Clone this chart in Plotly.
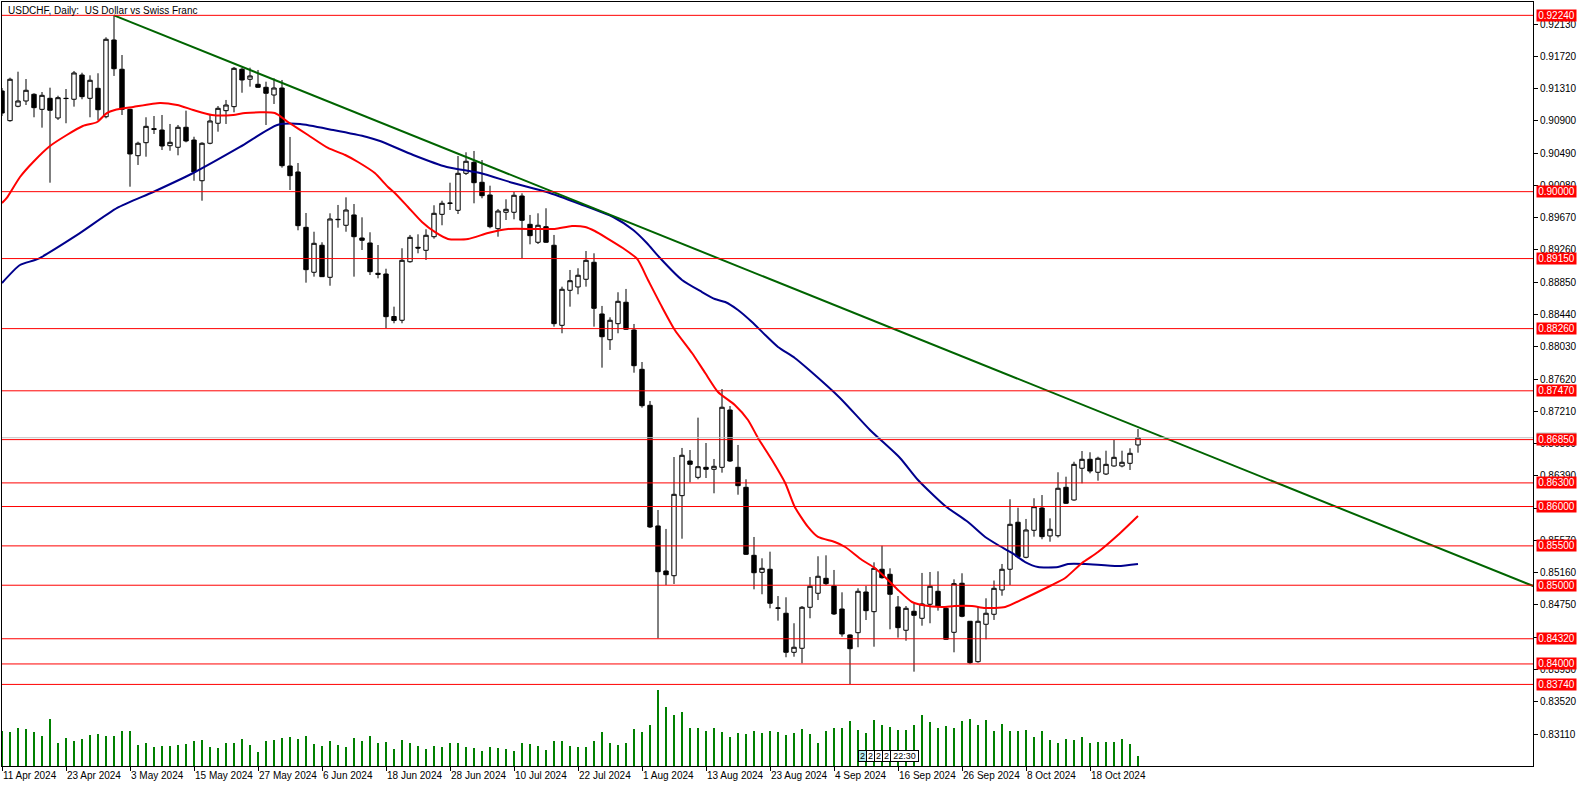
import plotly.graph_objects as go

# ---------------- data ----------------
date_labels = ["11 Apr 2024", "23 Apr 2024", "3 May 2024", "15 May 2024", "27 May 2024",
               "6 Jun 2024", "18 Jun 2024", "28 Jun 2024", "10 Jul 2024", "22 Jul 2024",
               "1 Aug 2024", "13 Aug 2024", "23 Aug 2024", "4 Sep 2024", "16 Sep 2024",
               "26 Sep 2024", "8 Oct 2024", "18 Oct 2024"]

opens = [0.91279, 0.90902, 0.91085, 0.91152, 0.91237, 0.91046, 0.91186, 0.90936, 0.91186, 0.91174,
         0.91482, 0.91186, 0.91313, 0.90952, 0.91927, 0.91555, 0.91046, 0.90457, 0.90622, 0.90800,
         0.90783, 0.90584, 0.90564, 0.90818, 0.90656, 0.90139, 0.90615, 0.90869, 0.91029, 0.91080,
         0.91555, 0.91428, 0.91364, 0.91326, 0.91228, 0.91317, 0.90326, 0.90250, 0.89547, 0.88976,
         0.89319, 0.88912, 0.89649, 0.89573, 0.89704, 0.89411, 0.89348, 0.88963, 0.88954, 0.88414,
         0.88366, 0.89110, 0.89293, 0.89255, 0.89428, 0.89712, 0.89856, 0.89763, 0.90233, 0.90373,
         0.90119, 0.89958, 0.89530, 0.89738, 0.89738, 0.89945, 0.89585, 0.89357, 0.89555, 0.89319,
         0.88302, 0.88747, 0.88789, 0.88887, 0.89103, 0.88446, 0.88119, 0.88323, 0.88595, 0.88243,
         0.87743, 0.87286, 0.85753, 0.85181, 0.85121, 0.86138, 0.86578, 0.86371, 0.86498, 0.86473,
         0.86498, 0.87226, 0.86498, 0.86244, 0.85380, 0.85164, 0.85203, 0.84707, 0.84644, 0.84148,
         0.84199, 0.84720, 0.84898, 0.85088, 0.84990, 0.84698, 0.84368, 0.84397, 0.84914, 0.84664,
         0.85203, 0.85139, 0.84724, 0.84428, 0.84669, 0.84580, 0.84758, 0.84923, 0.84707, 0.84402,
         0.85025, 0.84542, 0.84029, 0.84504, 0.84631, 0.84940, 0.85203, 0.85800, 0.85355, 0.85698,
         0.85981, 0.85626, 0.85629, 0.86244, 0.86083, 0.86486, 0.86600, 0.86435, 0.86413, 0.86515,
         0.86515, 0.86549, 0.86782]

highs = [0.91317, 0.91448, 0.91524, 0.91431, 0.91250, 0.91266, 0.91321, 0.91219, 0.91304, 0.91533,
         0.91511, 0.91478, 0.91504, 0.91961, 0.92240, 0.91736, 0.91054, 0.90635, 0.90945, 0.90961,
         0.90974, 0.90860, 0.90847, 0.91029, 0.90698, 0.90627, 0.90974, 0.91088, 0.91165, 0.91584,
         0.91575, 0.91575, 0.91546, 0.91397, 0.91440, 0.91419, 0.90695, 0.90364, 0.89729, 0.89491,
         0.89357, 0.89725, 0.89831, 0.89928, 0.89843, 0.89674, 0.89484, 0.89322, 0.89021, 0.88539,
         0.89281, 0.89450, 0.89458, 0.89522, 0.89827, 0.89885, 0.90114, 0.90453, 0.90500, 0.90517,
         0.90402, 0.90076, 0.89780, 0.89903, 0.89996, 0.89979, 0.89704, 0.89725, 0.89789, 0.89450,
         0.88793, 0.89005, 0.89027, 0.89246, 0.89217, 0.88548, 0.88404, 0.88722, 0.88764, 0.88319,
         0.87836, 0.87341, 0.85956, 0.85715, 0.86629, 0.86744, 0.86718, 0.87129, 0.86807, 0.86604,
         0.87493, 0.87277, 0.86782, 0.86346, 0.85613, 0.85342, 0.85426, 0.84863, 0.84847, 0.84517,
         0.84736, 0.85105, 0.85368, 0.85380, 0.85194, 0.84910, 0.84376, 0.84961, 0.84990, 0.85291,
         0.85502, 0.85215, 0.84863, 0.84736, 0.84771, 0.85156, 0.85168, 0.85177, 0.84727, 0.85075,
         0.85152, 0.84546, 0.84727, 0.84834, 0.85060, 0.85270, 0.86092, 0.85985, 0.85842, 0.86105,
         0.86146, 0.85850, 0.86435, 0.86379, 0.86569, 0.86705, 0.86689, 0.86633, 0.86709, 0.86845,
         0.86709, 0.86740, 0.86985]

lows = [0.90961, 0.90889, 0.91072, 0.91101, 0.90945, 0.90813, 0.90114, 0.90911, 0.90869, 0.91080,
        0.91174, 0.90945, 0.90911, 0.90932, 0.91470, 0.90974, 0.90063, 0.90339, 0.90444, 0.90733,
        0.90529, 0.90520, 0.90462, 0.90627, 0.90139, 0.89885, 0.90602, 0.90762, 0.90860, 0.91008,
        0.91257, 0.91334, 0.91320, 0.90847, 0.91114, 0.90305, 0.90021, 0.89509, 0.88844, 0.88920,
        0.88916, 0.88805, 0.89542, 0.89491, 0.88920, 0.89259, 0.88941, 0.88899, 0.88264, 0.88328,
        0.88328, 0.89098, 0.89217, 0.89132, 0.89403, 0.89573, 0.89767, 0.89716, 0.90212, 0.89852,
        0.89916, 0.89535, 0.89428, 0.89640, 0.89649, 0.89154, 0.89331, 0.89335, 0.89350, 0.88285,
        0.88201, 0.88539, 0.88696, 0.88793, 0.88285, 0.87764, 0.87989, 0.88201, 0.88243, 0.87700,
        0.87256, 0.85727, 0.84326, 0.85003, 0.85016, 0.85591, 0.86308, 0.86346, 0.86362, 0.86168,
        0.86430, 0.86566, 0.86150, 0.85384, 0.84948, 0.84885, 0.84707, 0.84550, 0.84085, 0.84092,
        0.84008, 0.84580, 0.84812, 0.85003, 0.84622, 0.84346, 0.83745, 0.84212, 0.84558, 0.84219,
        0.85083, 0.84440, 0.84334, 0.84295, 0.83902, 0.84486, 0.84517, 0.84677, 0.84304, 0.84148,
        0.84593, 0.83999, 0.84016, 0.84313, 0.84559, 0.84867, 0.85003, 0.85342, 0.85342, 0.85617,
        0.85584, 0.85553, 0.85607, 0.86032, 0.86074, 0.86295, 0.86422, 0.86328, 0.86400, 0.86506,
        0.86498, 0.86464, 0.86684]

closes = [0.90999, 0.91428, 0.91152, 0.91288, 0.91067, 0.91224, 0.91034, 0.91194, 0.91183, 0.91508,
          0.91207, 0.91415, 0.91041, 0.91936, 0.91562, 0.91046, 0.90479, 0.90615, 0.90830, 0.90792,
          0.90580, 0.90627, 0.90818, 0.90644, 0.90250, 0.90615, 0.90898, 0.91059, 0.91101, 0.91567,
          0.91419, 0.91470, 0.91326, 0.91250, 0.91317, 0.90330, 0.90203, 0.89568, 0.89009, 0.89344,
          0.88920, 0.89653, 0.89645, 0.89767, 0.89428, 0.89382, 0.88983, 0.88950, 0.88412, 0.88363,
          0.89128, 0.89420, 0.89284, 0.89446, 0.89725, 0.89852, 0.89852, 0.90233, 0.90386, 0.90114,
          0.89949, 0.89555, 0.89754, 0.89776, 0.89954, 0.89636, 0.89441, 0.89573, 0.89357, 0.88323,
          0.88760, 0.88869, 0.88938, 0.89128, 0.88518, 0.88157, 0.88366, 0.88607, 0.88252, 0.87789,
          0.87281, 0.85740, 0.85172, 0.85134, 0.86155, 0.86651, 0.86536, 0.86506, 0.86473, 0.86511,
          0.87261, 0.86578, 0.86265, 0.85393, 0.85159, 0.85215, 0.84771, 0.84711, 0.84148, 0.84212,
          0.84720, 0.84987, 0.85114, 0.85020, 0.84635, 0.84381, 0.84194, 0.84923, 0.84677, 0.85215,
          0.85096, 0.84885, 0.84461, 0.84707, 0.84618, 0.84762, 0.84987, 0.84736, 0.84313, 0.85020,
          0.84605, 0.84016, 0.84542, 0.84644, 0.84961, 0.85203, 0.85774, 0.85363, 0.85702, 0.85998,
          0.85617, 0.85711, 0.86232, 0.86041, 0.86536, 0.86600, 0.86451, 0.86613, 0.86536, 0.86625,
          0.86562, 0.86676, 0.86874]

tick_volumes = [52500, 51500, 57000, 55500, 51500, 45000, 70500, 34500, 42000, 38000,
                40500, 46500, 48000, 45000, 45000, 52500, 52500, 31500, 34500, 28500,
                30000, 30000, 31500, 33000, 37500, 39000, 28500, 27000, 34500, 34500,
                40500, 31500, 21000, 37500, 39000, 42000, 43500, 40500, 45000, 33000,
                30000, 37500, 31500, 28500, 42000, 37500, 45000, 34500, 36000, 25500,
                39000, 34500, 30000, 25500, 30000, 28500, 34500, 34500, 28500, 27000,
                22500, 28500, 27000, 25500, 22500, 34500, 33000, 30000, 24000, 37500,
                37500, 30000, 28500, 28500, 37500, 51000, 34500, 31500, 34500, 55500,
                51000, 61500, 114000, 88500, 76500, 81000, 57000, 57000, 52500, 57000,
                51000, 43500, 49500, 48000, 52500, 49500, 52500, 51000, 46500, 49500,
                55500, 48000, 34500, 52500, 57000, 57000, 67500, 54000, 49500, 69000,
                61500, 58500, 54000, 54000, 61500, 76500, 66000, 57000, 60000, 57000,
                67500, 70500, 61500, 69000, 52500, 63000, 52500, 52500, 54000, 43500,
                52500, 39000, 34500, 40500, 39000, 43500, 34500, 36000, 36000, 36000,
                40500, 33000, 15000]

# fast moving average (red), read at bar positions
ma_fast_x = [0, 0.6, 2.25, 3.9, 6, 8.1, 10.1, 11.9, 13.1, 14.1, 16.4, 19.75, 21.9, 23.9, 26.25,
             28.9, 30.4, 34.1, 35.75, 38.25, 40.75, 42.9, 44.5, 46.6, 48.25, 49.1, 50.75, 52.5,
             54.1, 55.75, 58.25, 60.75, 63.25, 66.6, 69.1, 71.25, 72.9, 74.1, 75.6, 77.6, 79.4,
             80.75, 82.5, 84.1, 86.25, 87.9, 89.5, 91.6, 93.25, 94.5, 96.25, 97.9, 99.1, 100.75,
             102, 104.1, 105.4, 107.5, 109.1, 110.75, 112, 113.75, 115, 117.5, 119.1, 121.25,
             122.9, 125.4, 127.9, 131.25, 132.9, 135, 137, 139.5, 142]
ma_fast_y = [0.89856, 0.89920, 0.90186, 0.90377, 0.90580, 0.90720, 0.90834, 0.90885, 0.90999, 0.91038,
             0.91076, 0.91127, 0.91101, 0.91038, 0.90974, 0.90974, 0.90999, 0.90999, 0.90885, 0.90720,
             0.90555, 0.90466, 0.90377, 0.90237, 0.90059, 0.89983, 0.89805, 0.89615, 0.89488, 0.89399,
             0.89399, 0.89475, 0.89526, 0.89526, 0.89526, 0.89564, 0.89551, 0.89500, 0.89411, 0.89284,
             0.89145, 0.88878, 0.88535, 0.88243, 0.87950, 0.87696, 0.87455, 0.87290, 0.87099, 0.86871,
             0.86591, 0.86299, 0.85994, 0.85740, 0.85613, 0.85549, 0.85486, 0.85321, 0.85219, 0.85067,
             0.84940, 0.84787, 0.84749, 0.84724, 0.84736, 0.84736, 0.84711, 0.84724, 0.84838, 0.85003,
             0.85092, 0.85283, 0.85422, 0.85638, 0.85880]

# slow moving average (blue)
ma_slow_x = [0, 2.25, 4.5, 9.4, 14.4, 18.9, 23.9, 29.75, 34.4, 37.25, 41.4, 45.6, 47.25, 51.4,
             55.6, 59.75, 63.9, 68.1, 72.25, 76.4, 78.9, 80.6, 82.25, 85, 87.5, 89.1, 90.4, 92,
             93.75, 95.4, 97, 99.1, 100.9, 104.75, 108.5, 112.25, 114.5, 117.9, 120.75, 122.9,
             124.5, 126.25, 127.9, 129.5, 132, 133.25, 135.4, 139.5, 142]
ma_slow_y = [0.88840, 0.89068, 0.89145, 0.89450, 0.89793, 0.89996, 0.90237, 0.90568, 0.90847, 0.90860,
             0.90783, 0.90695, 0.90644, 0.90466, 0.90313, 0.90237, 0.90110, 0.89996, 0.89843, 0.89678,
             0.89513, 0.89348, 0.89157, 0.88878, 0.88725, 0.88636, 0.88598, 0.88497, 0.88344, 0.88179,
             0.88027, 0.87887, 0.87734, 0.87379, 0.86972, 0.86617, 0.86337, 0.86007, 0.85803, 0.85613,
             0.85511, 0.85410, 0.85295, 0.85232, 0.85232, 0.85270, 0.85270, 0.85244, 0.85270]

# trend line (two anchor points)
trend_x = [14, 191.4]
trend_y = [0.92240, 0.84990]

levels = [0.92240, 0.90000, 0.89150, 0.88260, 0.87470, 0.86850, 0.86300, 0.86000,
          0.85500, 0.85000, 0.84320, 0.84000, 0.83740]
bid_price = 0.86874

price_ticks = [0.83110, 0.83520, 0.83930, 0.84340, 0.84750, 0.85160, 0.85570, 0.85980,
               0.86390, 0.86800, 0.87210, 0.87620, 0.88030, 0.88440, 0.88850, 0.89260,
               0.89670, 0.90080, 0.90490, 0.90900, 0.91310, 0.91720, 0.92130]

# ---------------- figure ----------------
W, H = 1586, 787
L, R, T, B = 2, 53, 2, 21
plot_w = W - L - R
plot_h = H - T - B
FONT = "Liberation Sans"

n = len(opens)
xs = list(range(n))
date_ticks = [8 * k for k in range(len(date_labels))]

fig = go.Figure()

# volumes
fig.add_trace(go.Bar(x=xs, y=tick_volumes, width=0.11, marker_color="#008000",
                     marker_line_width=0, yaxis="y2", hoverinfo="skip", showlegend=False))

fig.add_trace(go.Candlestick(
    x=xs, open=opens, high=highs, low=lows, close=closes,
    increasing=dict(line=dict(color="black", width=1), fillcolor="white"),
    decreasing=dict(line=dict(color="black", width=1), fillcolor="black"),
    whiskerwidth=0, showlegend=False, hoverinfo="skip"))

fig.add_trace(go.Scatter(x=ma_slow_x, y=ma_slow_y, mode="lines",
                         line=dict(color="#00008C", width=2, shape="spline", smoothing=0.6),
                         showlegend=False, hoverinfo="skip"))
fig.add_trace(go.Scatter(x=ma_fast_x, y=ma_fast_y, mode="lines",
                         line=dict(color="#FF0000", width=2, shape="spline", smoothing=0.6),
                         showlegend=False, hoverinfo="skip"))
fig.add_trace(go.Scatter(x=trend_x, y=trend_y, mode="lines",
                         line=dict(color="#006400", width=2),
                         showlegend=False, hoverinfo="skip", cliponaxis=True))

shapes = []
shapes.append(dict(type="line", xref="paper", x0=0, x1=1, yref="y", y0=bid_price, y1=bid_price,
                   line=dict(color="#C0C0C0", width=1), layer="above"))
for lv in levels:
    shapes.append(dict(type="line", xref="paper", x0=0, x1=1, yref="y", y0=lv, y1=lv,
                       line=dict(color="#FF0000", width=1), layer="above"))

annotations = []
lab_x = (1536 - L) / plot_w
annotations.append(dict(xref="paper", yref="y", x=lab_x, y=bid_price, xanchor="left", yanchor="bottom",
                        text=" ", showarrow=False, bgcolor="#C0C0C0", width=39, height=4,
                        borderpad=0, font=dict(size=4)))
for lv in levels:
    annotations.append(dict(xref="paper", yref="y", x=lab_x, y=lv, xanchor="left", yanchor="middle",
                            text=f"{lv:.5f}", showarrow=False, bgcolor="#FF0000",
                            width=39, height=11, borderpad=0,
                            font=dict(family=FONT, size=10, color="white")))

# title
annotations.append(dict(xref="paper", yref="paper", x=(6 - L) / plot_w, y=1 - (10 - T) / plot_h,
                        xanchor="left", yanchor="middle", showarrow=False,
                        text="USDCHF, Daily:  US Dollar vs Swiss Franc",
                        font=dict(family=FONT, size=10, color="black")))

# small period-separator labels near bottom
sep_boxes = [("2", 858, 7, "#B0E8EE"), ("2", 866, 7, "white"), ("2", 874, 7, "white"),
             ("2", 882, 7, "white"), ("22:30", 890, 27, "white")]
for txt, px, wd, bg in sep_boxes:
    annotations.append(dict(xref="paper", yref="paper", x=(px - L) / plot_w, y=1 - (756 - T) / plot_h,
                            xanchor="left", yanchor="middle", showarrow=False, text=txt,
                            bgcolor=bg, bordercolor="black", borderwidth=1, borderpad=0,
                            width=wd, height=10, font=dict(family=FONT, size=9, color="black")))

vol_max_axis = max(tick_volumes) * plot_h / 76.0

fig.update_layout(
    width=W, height=H,
    margin=dict(l=L, r=R, t=T, b=B, pad=0, autoexpand=False),
    paper_bgcolor="white", plot_bgcolor="white",
    showlegend=False,
    boxgap=0.45, boxgroupgap=0.0,
    bargap=0,
    shapes=shapes, annotations=annotations,
    font=dict(family=FONT, size=10, color="black"),
    xaxis=dict(range=[0, (1533 - L) / 8.0], showgrid=False, zeroline=False,
               rangeslider=dict(visible=False), automargin=False,
               tickmode="array", tickvals=date_ticks, ticktext=date_labels,
               tickangle=0,
               ticks="outside", ticklen=4, tickcolor="black",
               ticklabelposition="outside right",
               showline=True, linecolor="black", linewidth=1, mirror=True,
               tickfont=dict(family=FONT, size=10, color="black")),
    yaxis=dict(range=[0.827035, 0.924095], side="right", showgrid=False, zeroline=False,
               automargin=False,
               tickmode="array", tickvals=price_ticks, ticktext=[f"{v:.5f}" for v in price_ticks],
               ticks="outside", ticklen=4, tickcolor="black",
               showline=True, linecolor="black", linewidth=1, mirror=True,
               tickfont=dict(family=FONT, size=10, color="black")),
    yaxis2=dict(range=[0, vol_max_axis], overlaying="y", side="left", visible=False,
                showgrid=False, zeroline=False),
)

fig.write_html("out.html")
